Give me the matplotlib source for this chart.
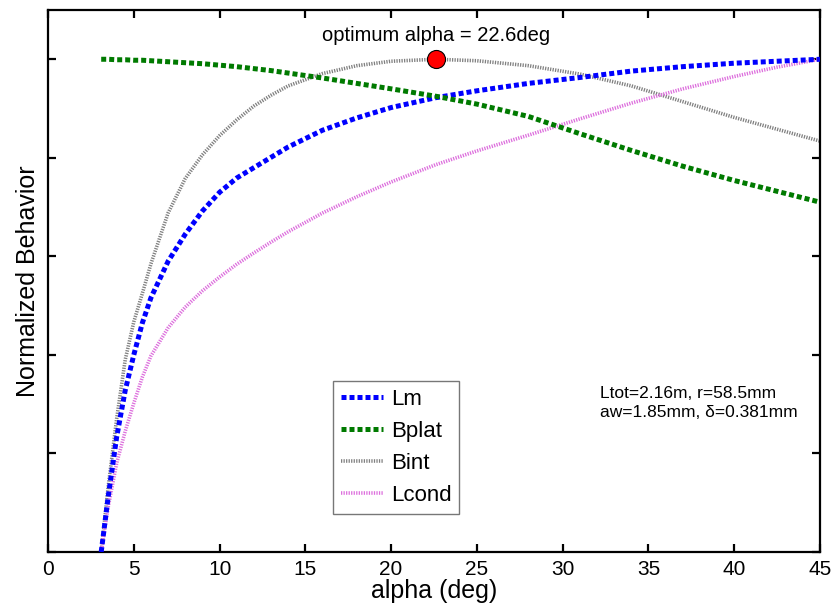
import matplotlib
matplotlib.use("Agg")
import matplotlib.pyplot as plt

plt.rcParams['font.family'] = ['Liberation Sans', 'DejaVu Sans']

alpha = [3.1, 3.5, 4, 4.5, 5, 5.5, 6, 7, 8, 9, 10, 11, 12, 13, 14, 16, 18, 20,
         22.6, 25, 28, 31, 34, 37, 40, 42.5, 45]

lm = [0.0, 0.11, 0.233, 0.328, 0.400, 0.465, 0.516, 0.590, 0.645, 0.692, 0.730,
      0.759, 0.780, 0.801, 0.822, 0.856, 0.881, 0.902, 0.922, 0.936, 0.951,
      0.963, 0.976, 0.985, 0.992, 0.996, 1.0]

bplat = [1.0, 1.0, 0.999, 0.999, 0.998, 0.998, 0.997, 0.995, 0.993, 0.991,
         0.988, 0.985, 0.981, 0.977, 0.972, 0.962, 0.951, 0.940, 0.925, 0.909,
         0.884, 0.849, 0.815, 0.783, 0.754, 0.732, 0.710]

bint = [0.0, 0.13, 0.27, 0.39, 0.467, 0.525, 0.585, 0.688, 0.758, 0.806, 0.845,
        0.877, 0.905, 0.927, 0.946, 0.971, 0.987, 0.996, 1.0, 0.997, 0.987,
        0.970, 0.946, 0.914, 0.882, 0.858, 0.834]

lcond = [0.0, 0.09, 0.18, 0.245, 0.302, 0.355, 0.398, 0.455, 0.497, 0.530,
         0.558, 0.584, 0.607, 0.629, 0.650, 0.688, 0.721, 0.751, 0.786, 0.814,
         0.846, 0.879, 0.911, 0.940, 0.965, 0.984, 1.0]

opt_alpha = 22.6
opt_value = 1.0
x_ticks = [0, 5, 10, 15, 20, 25, 30, 35, 40, 45]
y_ticks = [0, 0.2, 0.4, 0.6, 0.8, 1.0]

fig = plt.figure(figsize=(8.38, 6.13), dpi=100)
ax = fig.add_axes([0.0573, 0.0995, 0.9212, 0.8842])

ax.plot(alpha, lm, color='#0000ff', lw=3.6, linestyle=(0, (1.0, 0.6)),
        dash_capstyle='butt', label='Lm', zorder=3)
ax.plot(alpha, bplat, color='#007a00', lw=3.6, linestyle=(0, (1.0, 0.6)),
        dash_capstyle='butt', label='Bplat', zorder=3)
ax.plot(alpha, bint, color='#808080', lw=2.6, linestyle=(0, (0.35, 0.35)),
        dash_capstyle='butt', label='Bint', zorder=2)
ax.plot(alpha, lcond, color='#dd6fdd', lw=2.6, linestyle=(0, (0.35, 0.35)),
        dash_capstyle='butt', label='Lcond', zorder=2)

ax.plot([opt_alpha], [opt_value], 'o', markersize=13, markerfacecolor='#ff0000',
        markeredgecolor='black', markeredgewidth=0.8, zorder=5, clip_on=False)
ax.text(opt_alpha, 1.049, f'optimum alpha = {opt_alpha}deg', ha='center',
        va='center', fontsize=14.5)

ax.text(32.2, 0.3225, 'Ltot=2.16m, r=58.5mm', ha='left', va='center',
        fontsize=12.5)
ax.text(32.2, 0.284, 'aw=1.85mm, \u03b4=0.381mm', ha='left', va='center',
        fontsize=12.5)

ax.set_xlim(0, 45)
ax.set_ylim(0, 1.1)
ax.set_xticks(x_ticks)
ax.set_yticks(y_ticks)
ax.set_yticklabels([])
ax.tick_params(direction='in', length=6, width=1.6, top=True, right=True,
               labelsize=15, pad=6)
for s in ax.spines.values():
    s.set_linewidth(1.6)

ax.set_xlabel('alpha (deg)', fontsize=18, labelpad=0)
ax.set_ylabel('Normalized Behavior', fontsize=18, labelpad=0)

leg = ax.legend(loc='upper left', bbox_to_anchor=(0.369, 0.3155), fontsize=16,
                frameon=True, fancybox=False, handlelength=1.9,
                borderpad=0.35, labelspacing=0.5, handletextpad=0.35,
                borderaxespad=0)
leg.get_frame().set_edgecolor('#555555')
leg.get_frame().set_linewidth(1.0)

fig.savefig('out.png', dpi=100)
